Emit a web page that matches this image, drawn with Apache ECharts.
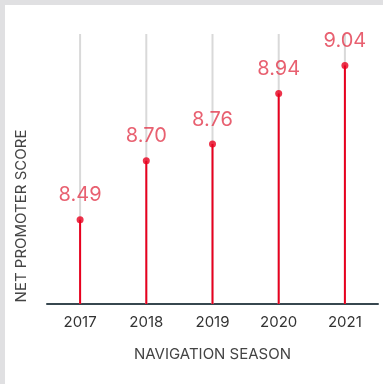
<!DOCTYPE html>
<html>
<head>
<meta charset="utf-8">
<script src="https://cdn.jsdelivr.net/npm/echarts@6/dist/echarts.min.js"></script>
<style>
  html, body { margin: 0; padding: 0; background: #e0e0e2; width: 383px; height: 384px; overflow: hidden; }
  #chart { position: absolute; left: 5px; top: 5px; width: 378px; height: 379px; background: #ffffff; }
</style>
</head>
<body>
<div id="chart"></div>
<script>
// Net promoter score per navigation season
const seasons = ['2017', '2018', '2019', '2020', '2021'];
const scores = [8.49, 8.70, 8.76, 8.94, 9.04];
const xTitle = 'NAVIGATION SEASON';
const yTitle = 'NET PROMOTER SCORE';

const stemRed = '#e8001e';
const labelRed = '#e2384c';
const font = 'Inter, "Open Sans", sans-serif';

const chart = echarts.init(document.getElementById('chart'), null, { renderer: 'canvas' });

chart.setOption({
  animation: false,
  grid: { left: 42, right: 5, top: 29, bottom: 80 },
  xAxis: {
    type: 'category',
    data: seasons,
    name: xTitle,
    nameLocation: 'middle',
    nameGap: 43,
    nameTextStyle: { color: '#444', fontSize: 15, fontFamily: font },
    axisLine: { lineStyle: { color: '#37474f', width: 2 } },
    axisTick: { show: false },
    axisLabel: { color: '#333', fontSize: 15, fontFamily: font, margin: 11 },
    splitLine: { show: false }
  },
  yAxis: {
    type: 'value',
    min: 8.19,
    max: 9.152,
    name: yTitle,
    nameLocation: 'middle',
    nameGap: 18,
    nameTextStyle: { color: '#444', fontSize: 15, fontFamily: font, padding: [0, 94, 0, 0] },
    axisLine: { show: false },
    axisTick: { show: false },
    axisLabel: { show: false },
    splitLine: { show: false }
  },
  series: [
    {
      // stems, with a grey full-height guide behind each one
      type: 'bar',
      data: scores,
      barWidth: 2,
      showBackground: true,
      backgroundStyle: { color: '#d9d9d9' },
      itemStyle: { color: stemRed },
      z: 2
    },
    {
      // lollipop heads with value labels
      type: 'scatter',
      data: scores,
      symbol: 'circle',
      symbolSize: 7,
      itemStyle: { color: stemRed },
      label: {
        show: true,
        position: 'top',
        distance: 11,
        color: labelRed,
        fontSize: 20,
        fontFamily: font,
        formatter: p => p.value.toFixed(2)
      },
      z: 3
    }
  ]
});
</script>
</body>
</html>
